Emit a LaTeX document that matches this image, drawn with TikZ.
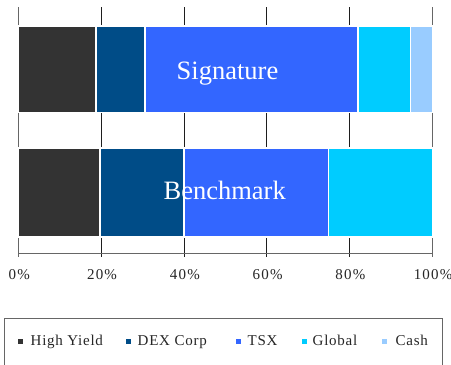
\documentclass[tikz,border=0pt]{standalone}
\usepackage{fontspec}
\setmainfont{Liberation Serif}
\newfontfamily\axisfont[LetterSpace=8]{Liberation Serif}
\newfontfamily\legendfont[LetterSpace=5]{Liberation Serif}

\definecolor{hycol}{HTML}{333333}
\definecolor{dexcol}{HTML}{004C87}
\definecolor{tsxcol}{HTML}{3366FF}
\definecolor{globalcol}{HTML}{00CCFF}
\definecolor{cashcol}{HTML}{99CCFF}
\definecolor{gridcol}{HTML}{1E1E1E}
\definecolor{edgecol}{HTML}{666666}

% horizontal position of a percentage on the value axis
\newcommand{\pos}[1]{18.5+4.138*#1}

\begin{document}
\begin{tikzpicture}[x=1pt,y=-1pt,
  seg/.style={draw=white, line width=1.6pt},
  gridmajor/.style={draw=gridcol, line width=0.9pt},
  gridedge/.style={draw=edgecol, line width=0.9pt},
  axisline/.style={draw=edgecol, line width=0.9pt},
  barlabel/.style={text=white, font=\fontsize{26.5}{30}\selectfont, anchor=base, inner sep=0pt},
  ticklabel/.style={text=black!85, font=\axisfont\fontsize{15}{18}\selectfont, anchor=base, inner sep=0pt},
  legtext/.style={text=black!85, font=\legendfont\fontsize{15}{18}\selectfont, anchor=base west, inner sep=0pt},
  legmark/.style={minimum size=5pt, inner sep=0pt, anchor=center},
  legframe/.style={draw=edgecol, line width=0.9pt}
]
\useasboundingbox (0,0) rectangle (451,365);
\clip (0,0) rectangle (451,365);
\fill[white] (0,0) rectangle (451,365);

% gridlines with their ticks below the axis
\foreach \p in {20,40,60,80}
  \draw[gridmajor] ({\pos{\p}},7) -- ({\pos{\p}},256.5);
\foreach \p in {0,100}
  \draw[gridedge] ({\pos{\p}},7) -- ({\pos{\p}},256.5);
\draw[axisline] ({\pos{0}},253.5) -- ({\pos{100}},253.5);

% Signature allocation
\foreach \a/\b/\c in {0/18.8/hycol, 18.8/30.5/dexcol, 30.5/82.1/tsxcol, 82.1/94.7/globalcol, 94.7/100/cashcol}
  \filldraw[seg, fill=\c] ({\pos{\a}},25.8) rectangle ({\pos{\b}},112.5);

% Benchmark allocation
\foreach \a/\b/\c in {0/19.7/hycol, 19.7/40/dexcol, 40/74.9/tsxcol, 74.9/100/globalcol}
  \filldraw[seg, fill=\c] ({\pos{\a}},148) rectangle ({\pos{\b}},237.2);

\node[barlabel] (sig) at (227.5,79) {Signature};
\node[barlabel] (bench) at (224.7,199) {Benchmark};

% value axis labels
\foreach \p in {0,20,40,60,80,100}
  \node[ticklabel] (tick\p) at ({\pos{\p}+0.8},279) {\p\%};

% legend
\draw[legframe] (4.3,318) rectangle (442.7,372);
\node[legmark, fill=hycol]     (mhy)  at (20.8,341.5) {};
\node[legtext] (lhy)  at (30.5,345.5)  {High Yield};
\node[legmark, fill=dexcol]    (mdex) at (128.8,341.5) {};
\node[legtext] (ldex) at (137.5,345.5) {DEX Corp};
\node[legmark, fill=tsxcol]    (mtsx) at (238.8,341.5) {};
\node[legtext] (ltsx) at (247.5,345.5) {TSX};
\node[legmark, fill=globalcol] (mgl)  at (304.8,341.5) {};
\node[legtext] (lgl)  at (312.5,345.5) {Global};
\node[legmark, fill=cashcol]   (mca)  at (384.8,341.5) {};
\node[legtext] (lca)  at (395.5,345.5) {Cash};
\end{tikzpicture}
\end{document}
